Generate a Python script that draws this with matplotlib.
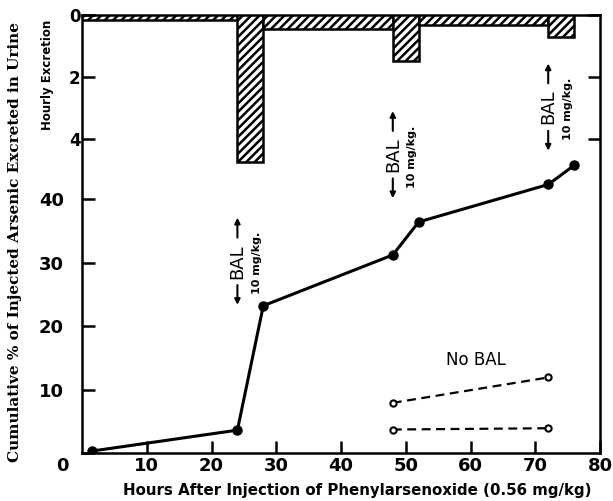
import numpy as np
import matplotlib
matplotlib.use('Agg')
import matplotlib.pyplot as plt
import matplotlib.transforms as mtransforms

# hourly excretion histogram (upper panel, % per hour)
bin_edges = [0, 24, 28, 48, 52, 72, 76]
hourly_excretion = [0.15, 4.75, 0.45, 1.5, 0.33, 0.7]

# cumulative excretion with BAL
bal_hours = [1.5, 24, 28, 48, 52, 72, 76]
bal_cumulative = [0.3, 3.6, 23.2, 31.2, 36.4, 42.3, 45.3]

# cumulative excretion without BAL (two animals)
nobal_hours = [48, 72]
nobal_high = [7.9, 11.9]
nobal_low = [3.7, 3.9]

# BAL injections (time, height of the marker label)
dose_hours = [24, 48, 72]
dose_label_y = [30.2, 47.0, 54.5]

plt.rcParams['hatch.linewidth'] = 1.8
sans = 'DejaVu Sans'

fig = plt.figure(figsize=(6.13, 5.01), dpi=100)
ax = fig.add_axes([82 / 613, 48 / 501, 518 / 613, 438 / 501])

ax.plot(bal_hours, bal_cumulative, color='k', lw=2.2, marker='o', ms=6.5)
for ys in (nobal_high, nobal_low):
    ax.plot(nobal_hours, ys, color='k', lw=1.6, ls=(0, (4, 2.5)),
            marker='o', ms=4.5, mfc='white', mew=1.5)

ax.set_xlim(0, 80)
ax.set_ylim(0, 69.0)
ax.set_xticks(range(10, 81, 10))
ax.set_yticks([0, 10, 20, 30, 40])
ax.tick_params(direction='in', length=9, width=1.8, labelsize=13, right=True)
ax.tick_params(axis='y', pad=13)
ax.tick_params(axis='x', pad=3)
for lab in ax.get_xticklabels() + ax.get_yticklabels():
    lab.set_family(sans)
    lab.set_fontweight('bold')
for s in ax.spines.values():
    s.set_linewidth(1.8)

# the y "0" sits on the level of the x tick labels
zero = ax.yaxis.get_major_ticks()[0].label1
zero.set_transform(zero.get_transform() +
                   mtransforms.ScaledTranslation(0.05, -0.11, fig.dpi_scale_trans))

# upper hourly panel, drawn downward from the top edge
ax2 = ax.twinx()
ax2.bar(bin_edges[:-1], hourly_excretion, width=np.diff(bin_edges), align='edge',
        color='white', edgecolor='k', hatch='////', lw=1.8)
ax2.set_ylim(14.13, 0)
ax2.set_yticks([0, 2, 4])
ax2.tick_params(axis='y', direction='in', length=9, width=1.8, left=True, right=True,
                labelleft=True, labelright=False, pad=1, labelsize=12)
for lab in ax2.get_yticklabels():
    lab.set_family(sans)
    lab.set_fontweight('bold')
for s in ax2.spines.values():
    s.set_visible(False)

# BAL markers
for x, y in zip(dose_hours, dose_label_y):
    ax.text(x, y, 'BAL', rotation=90, ha='center', va='center', fontsize=13,
            family=sans)
    for sgn in (1, -1):
        ax.annotate('', xy=(x, y + sgn * 7.3), xytext=(x, y + sgn * 3.3),
                    arrowprops=dict(arrowstyle='-|>', color='k', lw=1.5,
                                    mutation_scale=8))
    ax.text(x + 3.0, y - 0.3, '10 mg/kg.', rotation=90, ha='center', va='center',
            fontsize=8, family=sans, fontweight='bold')

ax.text(60.8, 14.6, 'No BAL', ha='center', va='center', fontsize=12, family=sans)

fig.text(15 / 613, 1 - 242 / 501, 'Cumulative % of Injected Arsenic Excreted in Urine',
         rotation=90, ha='center', va='center', fontsize=11, family='DejaVu Serif',
         fontweight='bold')
fig.text(47 / 613, 1 - 75 / 501, 'Hourly Excretion', rotation=90, ha='center',
         va='center', fontsize=8.5, family=sans, fontweight='bold')
fig.text(357 / 613, 1 - 490 / 501,
         'Hours After Injection of Phenylarsenoxide (0.56 mg/kg)',
         ha='center', va='center', fontsize=10.8, family=sans, fontweight='bold')

fig.savefig('out.png', dpi=100)
